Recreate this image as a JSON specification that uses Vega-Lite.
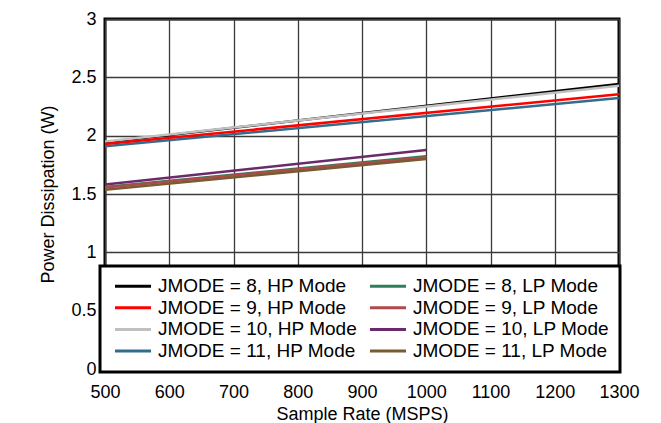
{
  "$schema": "https://vega.github.io/schema/vega-lite/v6.json",
  "width": 514,
  "height": 350,
  "autosize": "none",
  "padding": {"left": 105, "top": 19, "right": 42, "bottom": 54},
  "background": "white",
  "config": {
    "font": "Liberation Sans",
    "view": {"stroke": "black", "strokeWidth": 3},
    "axis": {
      "domain": false,
      "ticks": false,
      "grid": true,
      "gridColor": "#3a3a3a",
      "gridWidth": 1.3,
      "gridOpacity": 1,
      "labelFont": "Liberation Sans",
      "labelFontSize": 18,
      "labelColor": "black",
      "titleFont": "Liberation Sans",
      "titleFontSize": 18,
      "titleFontWeight": "normal",
      "titleColor": "black"
    }
  },
  "data": {
    "values": [
      {"rate": 500, "power": 1.943, "mode": "JMODE = 8, HP Mode"},
      {"rate": 1300, "power": 2.443, "mode": "JMODE = 8, HP Mode"},
      {"rate": 500, "power": 1.95, "mode": "JMODE = 10, HP Mode"},
      {"rate": 1300, "power": 2.428, "mode": "JMODE = 10, HP Mode"},
      {"rate": 500, "power": 1.91, "mode": "JMODE = 11, HP Mode"},
      {"rate": 1300, "power": 2.322, "mode": "JMODE = 11, HP Mode"},
      {"rate": 500, "power": 1.928, "mode": "JMODE = 9, HP Mode"},
      {"rate": 1300, "power": 2.355, "mode": "JMODE = 9, HP Mode"},
      {"rate": 500, "power": 1.56, "mode": "JMODE = 8, LP Mode"},
      {"rate": 1000, "power": 1.824, "mode": "JMODE = 8, LP Mode"},
      {"rate": 500, "power": 1.555, "mode": "JMODE = 9, LP Mode"},
      {"rate": 1000, "power": 1.815, "mode": "JMODE = 9, LP Mode"},
      {"rate": 500, "power": 1.582, "mode": "JMODE = 10, LP Mode"},
      {"rate": 1000, "power": 1.877, "mode": "JMODE = 10, LP Mode"},
      {"rate": 500, "power": 1.537, "mode": "JMODE = 11, LP Mode"},
      {"rate": 1000, "power": 1.8, "mode": "JMODE = 11, LP Mode"}
    ]
  },
  "mark": {"type": "line", "strokeWidth": 2.5, "clip": true},
  "encoding": {
    "x": {
      "field": "rate",
      "type": "quantitative",
      "scale": {"domain": [500, 1300], "nice": false, "zero": false},
      "axis": {
        "title": "Sample Rate (MSPS)",
        "values": [500, 600, 700, 800, 900, 1000, 1100, 1200, 1300],
        "format": "d",
        "labelPadding": 14,
        "titlePadding": 4,
        "labelFlush": false,
        "labelOverlap": false
      }
    },
    "y": {
      "field": "power",
      "type": "quantitative",
      "scale": {"domain": [0, 3], "nice": false},
      "axis": {
        "title": "Power Dissipation (W)",
        "values": [0, 0.5, 1, 1.5, 2, 2.5, 3],
        "format": ".1~f",
        "labelPadding": 9,
        "titlePadding": 13,
        "labelFlush": false,
        "labelOverlap": false
      }
    },
    "color": {
      "field": "mode",
      "type": "nominal",
      "scale": {
        "domain": ["JMODE = 8, HP Mode", "JMODE = 9, HP Mode", "JMODE = 10, HP Mode", "JMODE = 11, HP Mode", "JMODE = 8, LP Mode", "JMODE = 9, LP Mode", "JMODE = 10, LP Mode", "JMODE = 11, LP Mode"],
        "range": ["#000000", "#ff0000", "#c0c0c0", "#336c8c", "#2e7d5b", "#b04a4a", "#6b2a6b", "#7a5a30"]
      },
      "legend": {
        "title": null,
        "orient": "none",
        "legendX": -5,
        "legendY": 247,
        "columns": 2,
        "direction": "vertical",
        "fillColor": "white",
        "strokeColor": "black",
        "padding": 10.5,
        "symbolType": "M-3,0H3",
        "symbolSize": 144,
        "symbolStrokeWidth": 3,
        "symbolOffset": 13,
        "labelFont": "Liberation Sans",
        "labelFontSize": 19,
        "labelColor": "black",
        "labelOffset": 15.5,
        "labelLimit": 400,
        "rowPadding": 1.7,
        "columnPadding": 6,
        "encode": {"legend": {"update": {"strokeWidth": {"value": 3}}}}
      }
    }
  }
}
